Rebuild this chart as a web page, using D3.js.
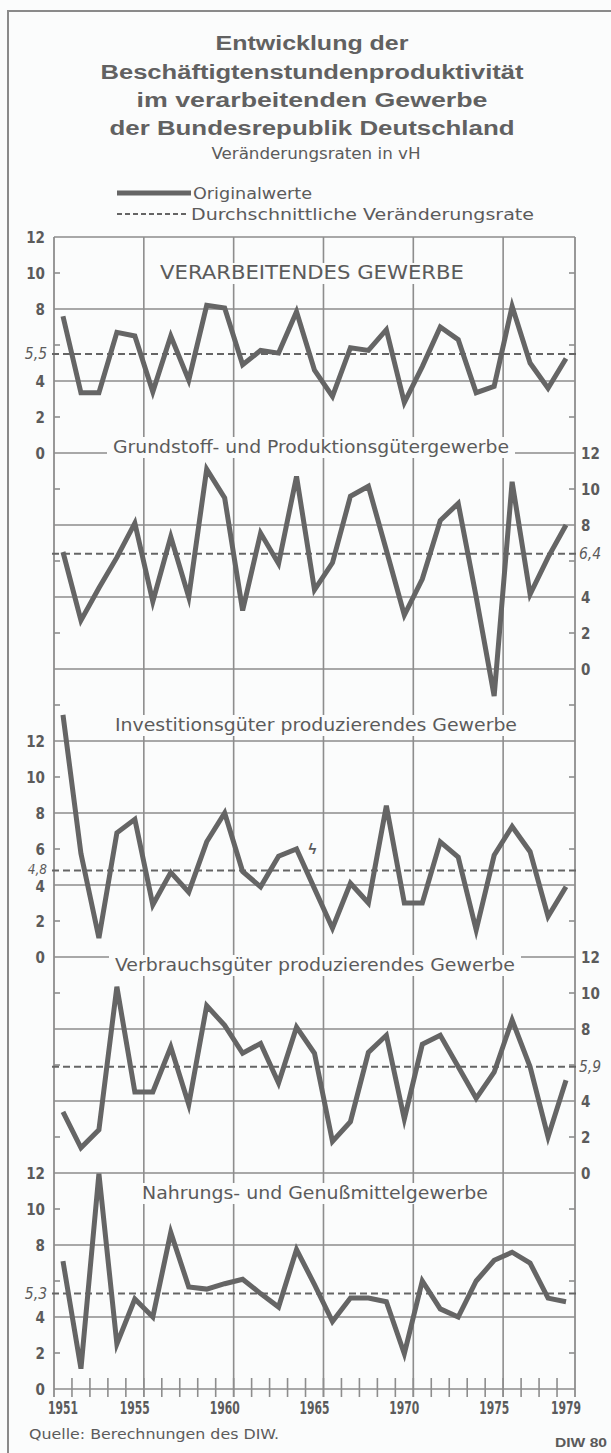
<!DOCTYPE html>
<html><head><meta charset="utf-8">
<script src="https://cdn.jsdelivr.net/npm/d3@7"></script>
<style>
html,body{margin:0;padding:0;background:#fbfcfc;}
svg{display:block;}
</style></head>
<body>
<svg id="chart" width="611" height="1453"></svg>
<script>
// ---------- data ----------
const years = [1951,1952,1953,1954,1955,1956,1957,1958,1959,1960,1961,1962,1963,1964,1965,1966,1967,1968,1969,1970,1971,1972,1973,1974,1975,1976,1977,1978,1979];
const yearLabels = [1951,1955,1960,1965,1970,1975,1979];
const titleLines = ["Entwicklung der","Beschäftigtenstundenproduktivität","im verarbeitenden Gewerbe","der Bundesrepublik Deutschland"];
const subtitle = "Veränderungsraten in vH";
const legendLabels = ["Originalwerte","Durchschnittliche Veränderungsrate"];
const panelNames = ["VERARBEITENDES GEWERBE","Grundstoff- und Produktionsgütergewerbe","Investitionsgüter produzierendes Gewerbe","Verbrauchsgüter produzierendes Gewerbe","Nahrungs- und Genußmittelgewerbe"];
const verarbeitend = [7.6,3.35,3.35,6.7,6.5,3.4,6.5,4.05,8.2,8.05,4.9,5.7,5.55,7.85,4.6,3.15,5.85,5.7,6.85,2.8,4.8,7.0,6.3,3.35,3.7,8.15,5.0,3.6,5.25];
const grundstoff   = [6.5,2.7,4.5,6.2,8.1,3.75,7.35,4.0,11.1,9.5,3.25,7.55,5.85,10.7,4.4,5.9,9.6,10.15,6.6,3.0,5.0,8.25,9.2,4.0,-1.5,10.4,4.15,6.2,8.0];
const investition  = [13.45,5.75,1.05,6.9,7.65,2.9,4.7,3.6,6.4,8.0,4.75,3.9,5.6,6.0,3.8,1.6,4.1,3.0,8.4,3.0,3.0,6.4,5.55,1.5,5.65,7.25,5.85,2.25,3.9];
const verbrauch    = [3.4,1.4,2.4,10.35,4.5,4.5,7.0,3.8,9.3,8.2,6.65,7.2,5.0,8.1,6.65,1.75,2.85,6.7,7.65,3.0,7.15,7.65,5.9,4.15,5.6,8.5,5.9,2.0,5.15];
const nahrung      = [7.1,1.13,11.96,2.5,5.0,4.0,8.7,5.67,5.55,5.85,6.1,5.3,4.55,7.75,5.8,3.75,5.05,5.05,4.85,1.96,6.0,4.45,4.0,6.0,7.15,7.6,7.0,5.05,4.85];
const series = [verarbeitend, grundstoff, investition, verbrauch, nahrung];
const averages = [5.5, 6.4, 4.8, 5.9, 5.3];
const avgLabels = ["5,5","6,4","4,8","5,9","5,3"];
const panelOffsets = [0, 12, 28, 40, 52];          // units from the top of the grid
const axisSide = ["left","right","left","right","left"];
const tickLabels = [[12,10,8,4,2,0],[12,10,8,4,2,0],[12,10,8,6,4,2,0],[12,10,8,4,2,0],[12,10,8,4,2,0]];
const source = "Quelle: Berechnungen des DIW.";
const credit = "DIW 80";

// ---------- layout ----------
const W = 611, H = 1453;
const plotL = 54, plotR = 575, gridTop = 237, totalUnits = 64;
const unit = 18;
const gridBottom = gridTop + totalUnits*unit;
const bg = "#fbfcfc";
const ink = "#5b5b5b", gridCol = "#8d8d8d", lineCol = "#656565";
const narrow = "'Liberation Sans Narrow','DejaVu Sans Condensed','Arial Narrow',sans-serif";
const wide = "'Liberation Sans','Arial',sans-serif";

const svg = d3.select("#chart");
svg.append("rect").attr("width",W).attr("height",H).attr("fill",bg);

// frame
svg.append("path").attr("d",`M8,${H} L8,11 L${W},11`).attr("fill","none").attr("stroke","#8a8a8a").attr("stroke-width",2);

// title
const titleBase = [50,79,107,135];
const titleW = [193,423,351,405];
titleLines.forEach((t,i)=>{
  svg.append("text").attr("x",312).attr("y",titleBase[i]).attr("text-anchor","middle")
    .attr("font-family",wide).attr("font-weight","bold").attr("font-size",19.5)
    .attr("fill","#616161").attr("textLength",titleW[i]).attr("lengthAdjust","spacingAndGlyphs").text(t);
});
svg.append("text").attr("x",316).attr("y",159).attr("text-anchor","middle")
  .attr("font-family",narrow).attr("font-size",15.5).attr("fill",ink)
  .attr("textLength",209).attr("lengthAdjust","spacingAndGlyphs").text(subtitle);

// legend
svg.append("line").attr("x1",117).attr("x2",191).attr("y1",193).attr("y2",193).attr("stroke",lineCol).attr("stroke-width",5);
svg.append("line").attr("x1",117).attr("x2",189).attr("y1",214).attr("y2",214).attr("stroke",lineCol).attr("stroke-width",2).attr("stroke-dasharray","5,3");
svg.append("text").attr("x",193).attr("y",199).attr("font-family",narrow).attr("font-size",15.5).attr("fill",ink)
  .attr("textLength",119).attr("lengthAdjust","spacingAndGlyphs").text(legendLabels[0]);
svg.append("text").attr("x",191).attr("y",220).attr("font-family",narrow).attr("font-size",15.5).attr("fill",ink)
  .attr("textLength",343).attr("lengthAdjust","spacingAndGlyphs").text(legendLabels[1]);

// scales
const x = d3.scaleLinear().domain([years[0]-0.5, years[years.length-1]+0.5]).range([plotL, plotR]);
const gy = d3.scaleLinear().domain([0, totalUnits]).range([gridTop, gridBottom]);
const panelY = series.map((s,i)=> d3.scaleLinear().domain([12,0]).range([gy(panelOffsets[i]), gy(panelOffsets[i]+12)]));

const g = svg.append("g");
// horizontal gridlines every 4 units, ticks at 2 units between
d3.range(0, totalUnits+1, 4).forEach(u=>{
  g.append("line").attr("x1",plotL).attr("x2",plotR).attr("y1",gy(u)).attr("y2",gy(u)).attr("stroke",gridCol).attr("stroke-width",1.6);
});
d3.range(2, totalUnits, 4).forEach(u=>{
  g.append("line").attr("x1",plotL).attr("x2",plotL+6).attr("y1",gy(u)).attr("y2",gy(u)).attr("stroke",gridCol).attr("stroke-width",1.6);
  g.append("line").attr("x1",plotR-6).attr("x2",plotR).attr("y1",gy(u)).attr("y2",gy(u)).attr("stroke",gridCol).attr("stroke-width",1.6);
});
// vertical axis lines and 5-year gridlines
[years[0]-0.5, years[years.length-1]+0.5].forEach(v=>{
  g.append("line").attr("x1",x(v)).attr("x2",x(v)).attr("y1",gridTop).attr("y2",gridBottom+8).attr("stroke",gridCol).attr("stroke-width",1.8);
});
[1955.5,1960.5,1965.5,1970.5,1975.5].forEach(v=>{
  g.append("line").attr("x1",x(v)).attr("x2",x(v)).attr("y1",gridTop).attr("y2",gridBottom+8).attr("stroke",gridCol).attr("stroke-width",1.6);
});
// x-axis year ticks
years.slice(0,-1).forEach(yr=>{
  const xv = x(yr+0.5);
  g.append("line").attr("x1",xv).attr("x2",xv).attr("y1",gridBottom-11).attr("y2",gridBottom+8).attr("stroke",gridCol).attr("stroke-width",1.6);
});
// year labels
yearLabels.forEach(yr=>{
  svg.append("text").attr("x",x(yr)).attr("y",gridBottom+25).attr("text-anchor","middle")
    .attr("font-family",narrow).attr("font-weight","bold").attr("font-size",17).attr("fill",ink)
    .attr("textLength",30).attr("lengthAdjust","spacingAndGlyphs").text(yr);
});

// panels
series.forEach((s,i)=>{
  const y = panelY[i];
  const left = axisSide[i]==="left";
  tickLabels[i].forEach(v=>{
    const nudge = (i===2 && v===4) ? 1.5 : 0;
    svg.append("text").attr("x", left? plotL-9 : plotR+6).attr("y", y(v)+5.5+nudge)
      .attr("text-anchor", left? "end":"start")
      .attr("font-family",narrow).attr("font-weight","bold").attr("font-size",15).attr("fill",ink).text(v);
  });
  const anudge = (i===2) ? -1.5 : 0;
  svg.append("text").attr("x", left? plotL-7 : plotR+4).attr("y", y(averages[i])+5+anudge)
    .attr("text-anchor", left? "end":"start")
    .attr("font-family",narrow).attr("font-style","italic").attr("font-size", i===2 ? 13.5 : 15.5).attr("fill",ink).text(avgLabels[i]);
  svg.append("line").attr("x1",plotL-2).attr("x2",plotR+2).attr("y1",y(averages[i])).attr("y2",y(averages[i]))
    .attr("stroke",lineCol).attr("stroke-width",2).attr("stroke-dasharray","7,4");
});

// panel titles with background boxes
const titleSpec = [
  {cx:312, base:279, w:304, fs:19},
  {cx:311, base:453, w:396, fs:18},
  {cx:316, base:731, w:402, fs:18},
  {cx:315, base:971, w:400, fs:18},
  {cx:315, base:1199, w:346, fs:18}
];
titleSpec.forEach((t,i)=>{
  svg.append("rect").attr("x",t.cx - t.w/2 - 6).attr("y",t.base-16).attr("width",t.w+12).attr("height",21).attr("fill",bg);
  svg.append("text").attr("x",t.cx).attr("y",t.base).attr("text-anchor","middle")
    .attr("font-family",narrow).attr("font-size",t.fs).attr("fill",ink)
    .attr("textLength",t.w).attr("lengthAdjust","spacingAndGlyphs").text(panelNames[i]);
});

// data lines
series.forEach((s,i)=>{
  const y = panelY[i];
  const line = d3.line().x((d,j)=>x(years[j])).y(d=>y(d));
  svg.append("path").datum(s).attr("d",line).attr("fill","none").attr("stroke",lineCol)
    .attr("stroke-width",5).attr("stroke-linejoin","miter").attr("stroke-miterlimit",5);
});

// break marker in Investitionsgüter panel
svg.append("text").attr("x",x(1965)-2).attr("y",panelY[2](5.75)).attr("text-anchor","middle")
  .attr("font-family",wide).attr("font-size",15).attr("font-weight","bold").attr("fill",ink).text("ϟ");

// footer
svg.append("text").attr("x",29).attr("y",1439).attr("font-family",narrow).attr("font-size",14.5).attr("fill",ink)
  .attr("textLength",250).attr("lengthAdjust","spacingAndGlyphs").text(source);
svg.append("text").attr("x",607).attr("y",1447).attr("text-anchor","end").attr("font-family",wide).attr("font-weight","bold").attr("font-size",13).attr("fill",ink)
  .attr("textLength",52).attr("lengthAdjust","spacingAndGlyphs").text(credit);
</script>
</body></html>
